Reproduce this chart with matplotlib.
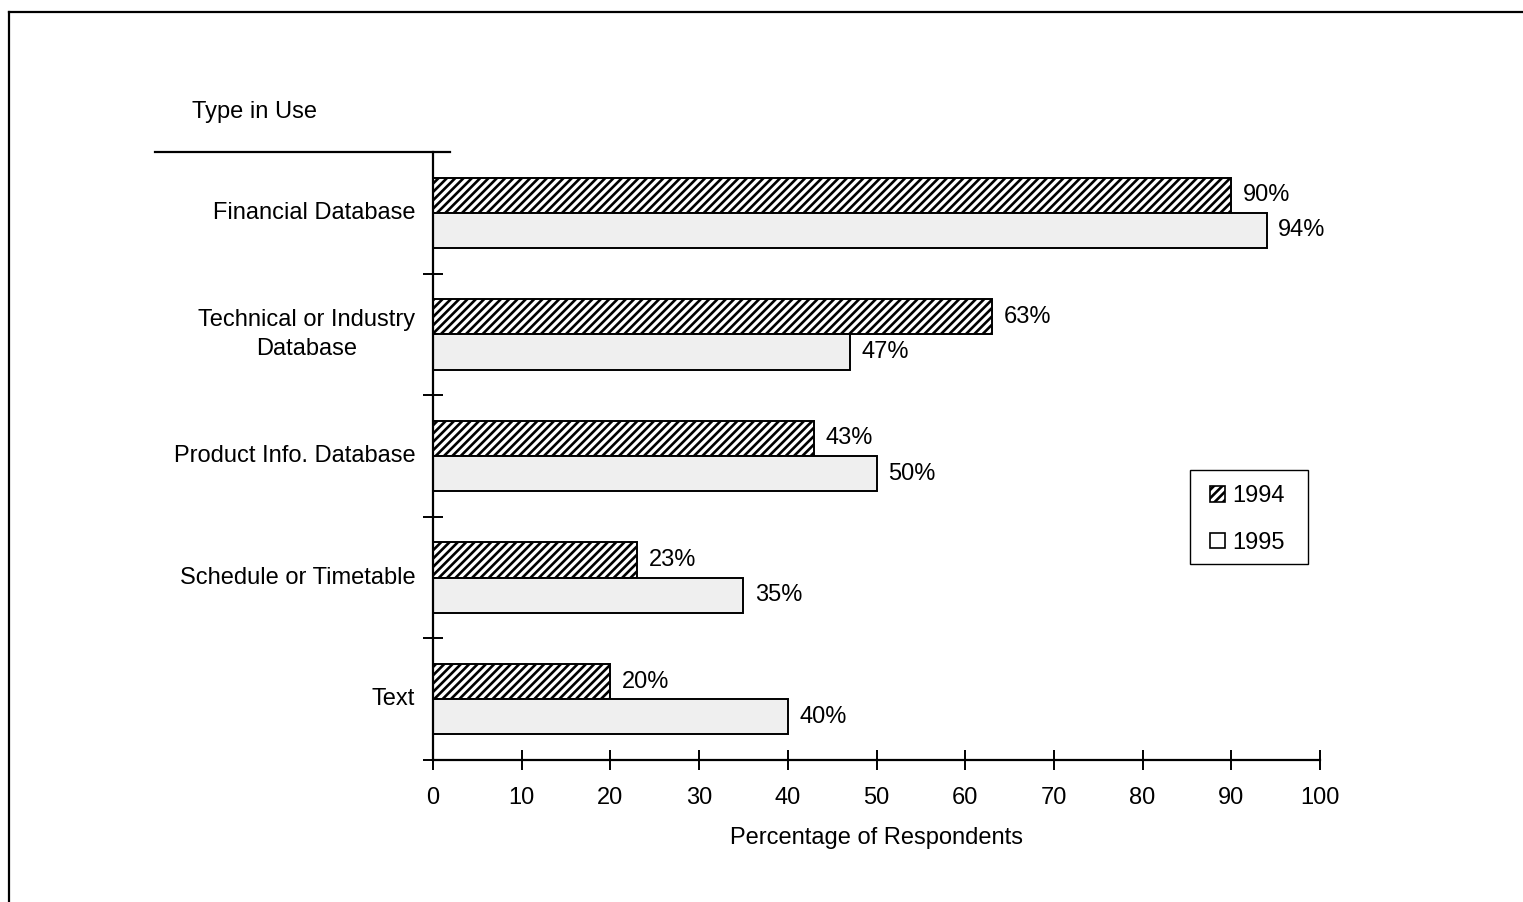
import matplotlib
matplotlib.use("Agg")
import matplotlib.pyplot as plt
from matplotlib.patches import Patch, Rectangle
from matplotlib.lines import Line2D
import numpy as np

plt.rcParams["font.family"] = ["Liberation Sans", "DejaVu Sans"]
plt.rcParams["hatch.linewidth"] = 1.9

categories = ["Financial Database", "Technical or Industry\nDatabase",
              "Product Info. Database", "Schedule or Timetable", "Text"]
pct_1994 = [90, 63, 43, 23, 20]
pct_1995 = [94, 47, 50, 35, 40]
series_labels = ["1994", "1995"]
x_ticks = [0, 10, 20, 30, 40, 50, 60, 70, 80, 90, 100]

FS = 17
W, H = 1523, 902

fig = plt.figure(figsize=(W / 100, H / 100), dpi=100)
fig.patch.set_facecolor("white")
ax = fig.add_axes([433 / W, 1 - 760 / H, 887 / W, 608 / H])

n = len(categories)
y = np.arange(n)[::-1] + 0.5   # category centres, top to bottom
h = 0.29

ax.barh(y + h / 2, pct_1994, height=h, color="white", edgecolor="black",
        hatch="////", linewidth=1.4)
ax.barh(y - h / 2, pct_1995, height=h, color="#efefef", edgecolor="black",
        linewidth=1.4)

for yi, v in zip(y + h / 2, pct_1994):
    ax.text(v + 1.3, yi, f"{v}%", va="center", ha="left", fontsize=FS)
for yi, v in zip(y - h / 2, pct_1995):
    ax.text(v + 1.3, yi, f"{v}%", va="center", ha="left", fontsize=FS)

ax.set_xlim(0, 100)
ax.set_ylim(0, n)
ax.set_xticks(x_ticks)
ax.set_xticklabels([str(t) for t in x_ticks], fontsize=FS)
ax.set_yticks(np.arange(0, n))
ax.set_yticklabels([])
ax.tick_params(axis="x", direction="inout", length=15, width=1.4, pad=12)
ax.tick_params(axis="y", direction="inout", length=15, width=1.4)
for yi, lab in zip(y, categories):
    ax.text(-2.0, yi, lab, ha="right", va="center", fontsize=FS,
            multialignment="center", linespacing=1.45)

for side in ["top", "right"]:
    ax.spines[side].set_visible(False)
for side in ["left", "bottom"]:
    ax.spines[side].set_linewidth(1.6)
ax.set_facecolor("none")

ax.set_xlabel("Percentage of Respondents", fontsize=FS, labelpad=13)

# header above the category labels
fig.text(192 / W, 1 - 112 / H, "Type in Use", fontsize=FS,
         ha="left", va="center")
fig.add_artist(Line2D([155 / W, 450 / W], [1 - 152 / H, 1 - 152 / H],
                      color="black", lw=1.6))

# outer frame (left and top edges)
fig.add_artist(Line2D([9 / W, 9 / W], [0, 1 - 12 / H], color="black", lw=1.6))
fig.add_artist(Line2D([9 / W, 1], [1 - 12 / H, 1 - 12 / H], color="black", lw=1.6))

# legend: entries without frame, box drawn separately
handles = [Patch(facecolor="white", edgecolor="black", hatch="////", linewidth=1.2),
           Patch(facecolor="white", edgecolor="black", linewidth=1.2)]
fig.legend(handles, series_labels, loc="upper left",
           bbox_to_anchor=(1210 / W, 1 - 485 / H),
           bbox_transform=fig.transFigure, fontsize=FS,
           handlelength=0.65, handleheight=0.65, handletextpad=0.3,
           labelspacing=1.05, borderpad=0, borderaxespad=0, frameon=False)
fig.add_artist(Rectangle((1190 / W, 1 - 564 / H), 118 / W, 94 / H,
                         transform=fig.transFigure, facecolor="none",
                         edgecolor="black", lw=1.0))

fig.savefig("out.png", dpi=100)
